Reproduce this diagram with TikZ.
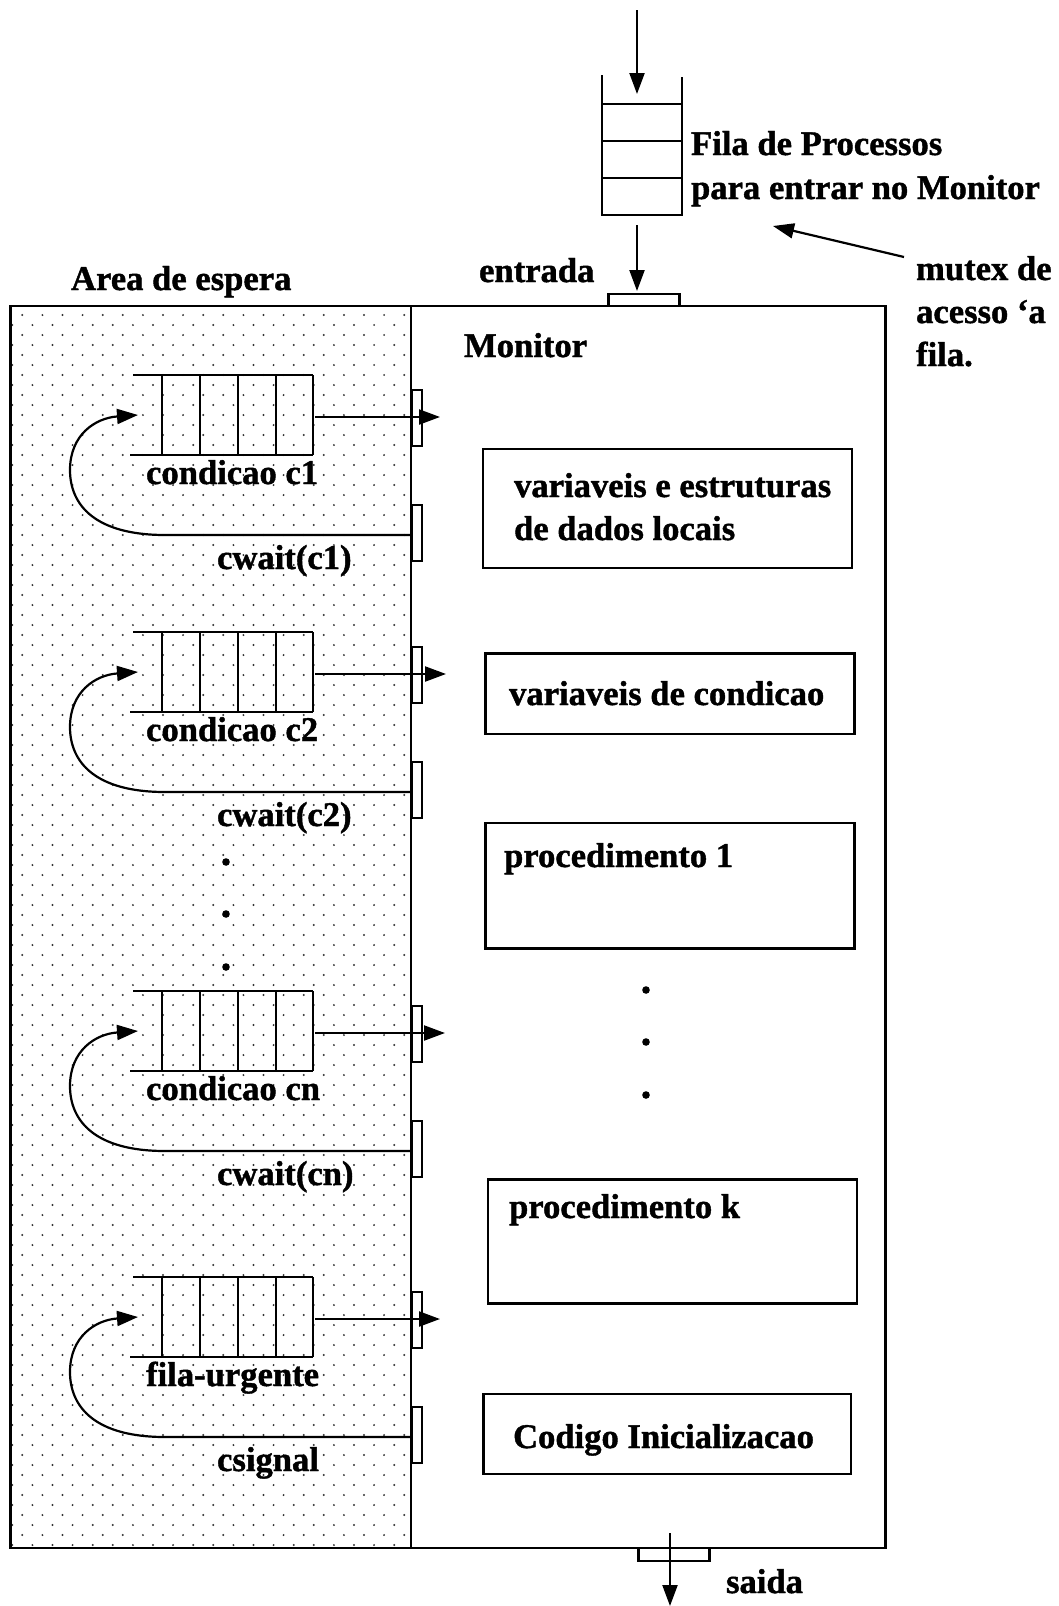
\documentclass[tikz,border=0pt]{standalone}
\usepackage{fontspec}
\setmainfont{Liberation Serif}[BoldFeatures={FakeBold=1.2}]
\usetikzlibrary{arrows.meta}
\begin{document}
\begin{tikzpicture}[x=1pt,y=-1pt,line width=2.2pt,
  lbl/.style={anchor=base west,inner sep=0pt,font=\bfseries\fontsize{34.6}{43.5}\selectfont},
  box/.style={draw,line width=2.2pt,inner sep=0pt,anchor=north west},
  gate/.style={draw,line width=2.2pt,inner sep=0pt,anchor=north west},
  arr/.style={-{Triangle[length=21pt,width=15pt]}},
  bigdot/.style={fill=black}]
\useasboundingbox (0,0) rectangle (1058,1606);
% dotted waiting area
\foreach \j in {0,...,123} {
  \pgfmathsetmacro\yy{315+10*\j}
  \pgfmathsetmacro\xo{mod(\j,2)==0 ? 22.3 : 12.3}
  \foreach \k in {0,...,19} \fill[black!80] (\xo+20.1*\k,\yy) circle[radius=1.1pt];
}
% monitor and waiting area
\node[box,minimum width=875pt,minimum height=1242pt] (mon) at (9.3,305) {};
\node[box,minimum width=400.7pt,minimum height=1242pt] (wait) at (9.3,305) {};
% entry queue
\coordinate (topin) at (637,10);
\coordinate (qtop) at (637,94);
\draw (602.3,75) -- (602.3,215) -- (681.7,215) -- (681.7,77);
\foreach \yv in {104,141,178} \draw (602.3,\yv) -- (681.7,\yv);
\draw[arr] (topin) -- (qtop);
\node[gate,minimum width=71pt,minimum height=12.3pt] (entr) at (607.3,292.7) {};
\coordinate (qbot) at (637,225);
\coordinate (entrin) at (637,291);
\draw[arr] (qbot) -- (entrin);
% exit
\node[gate,minimum width=71pt,minimum height=13pt] (sai) at (637.3,1547) {};
\coordinate (sa1) at (670,1533);
\coordinate (sa2) at (670,1606);
\draw[arr] (sa1) -- (sa2);
% mutex arrow
\coordinate (mx1) at (904,257);
\coordinate (mx2) at (773,226);
\draw[arr] (mx1) -- (mx2);
% labels top
\node[lbl] (fila1) at (690,155) {Fila de Processos};
\node[lbl] (fila2) at (690,199) {para entrar no Monitor};
\node[lbl] (mut1) at (915,280) {mutex de};
\node[lbl] (mut2) at (915,323) {acesso ‘a};
\node[lbl] (mut3) at (915,366) {fila.};
\node[lbl] (area) at (70,290) {Area de espera};
\node[lbl] (entrada) at (478,282) {entrada};
\node[lbl] (monlbl) at (463,357) {Monitor};
\node[lbl] (saida) at (725,1593) {saida};
% monitor content boxes
\node[box,minimum width=369pt,minimum height=119pt] (b1) at (482,448) {};
\node[lbl] (b1t1) at (513,497) {variaveis e estruturas};
\node[lbl] (b1t2) at (513,540) {de dados locais};
\node[box,minimum width=369pt,minimum height=80.4pt] (b2) at (484.3,652.3) {};
\node[lbl] (b2t) at (508,705) {variaveis de condicao};
\node[box,minimum width=369pt,minimum height=125.6pt] (b3) at (484.3,821.7) {};
\node[lbl] (b3t) at (503,867) {procedimento 1};
\node[box,minimum width=369pt,minimum height=124pt] (b4) at (486.7,1178.3) {};
\node[lbl] (b4t) at (508,1218) {procedimento k};
\node[box,minimum width=367.7pt,minimum height=80pt] (b5) at (482.3,1392.7) {};
\node[lbl] (b5t) at (512,1448) {Codigo Inicializacao};
% ellipsis dots
\foreach \yv/\n in {990/1,1042/2,1095/3} \fill[bigdot] (646,\yv) circle[radius=3.8pt];
\foreach \yv/\n in {862/1,914/2,967/3} \fill[bigdot] (226,\yv) circle[radius=3.8pt];
% condition queues
\foreach \T/\lab/\sig/\n/\tip in {375/{condicao c1}/{cwait(c1)}/1/440, 632/{condicao c2}/{cwait(c2)}/2/446, 991/{condicao cn}/{cwait(cn)}/3/445, 1277/{fila-urgente}/{csignal}/4/440} {
  \draw (133,\T) -- (313.3,\T);
  \draw (130,\T+80) -- (313.3,\T+80);
  \foreach \xv in {162.3,200,237.7,275.7,313.3} \draw (\xv,\T) -- (\xv,\T+80);
  \node[gate,minimum width=10pt,minimum height=56pt] (ga\n) at (410.7,\T+14) {};
  \node[gate,minimum width=10pt,minimum height=56pt] (gb\n) at (410.7,\T+129) {};
  \coordinate (qout\n) at (315,\T+42);
  \coordinate (exit\n) at (\tip,\T+42);
  \coordinate (qin\n) at (138,\T+40);
  \coordinate (src\n) at (410,\T+160);
  \draw[arr] (qout\n) -- (exit\n);
  \draw[arr] (src\n) -- (165,\T+160) .. controls (95,\T+160) and (70,\T+130) .. (70,\T+95)
     .. controls (70,\T+60) and (95,\T+43) .. (qin\n);
  \node[lbl] (lab\n) at (145,\T+109) {\lab};
  \node[lbl] (op\n) at (216,\T+194) {\sig};
}
\end{tikzpicture}
\end{document}
